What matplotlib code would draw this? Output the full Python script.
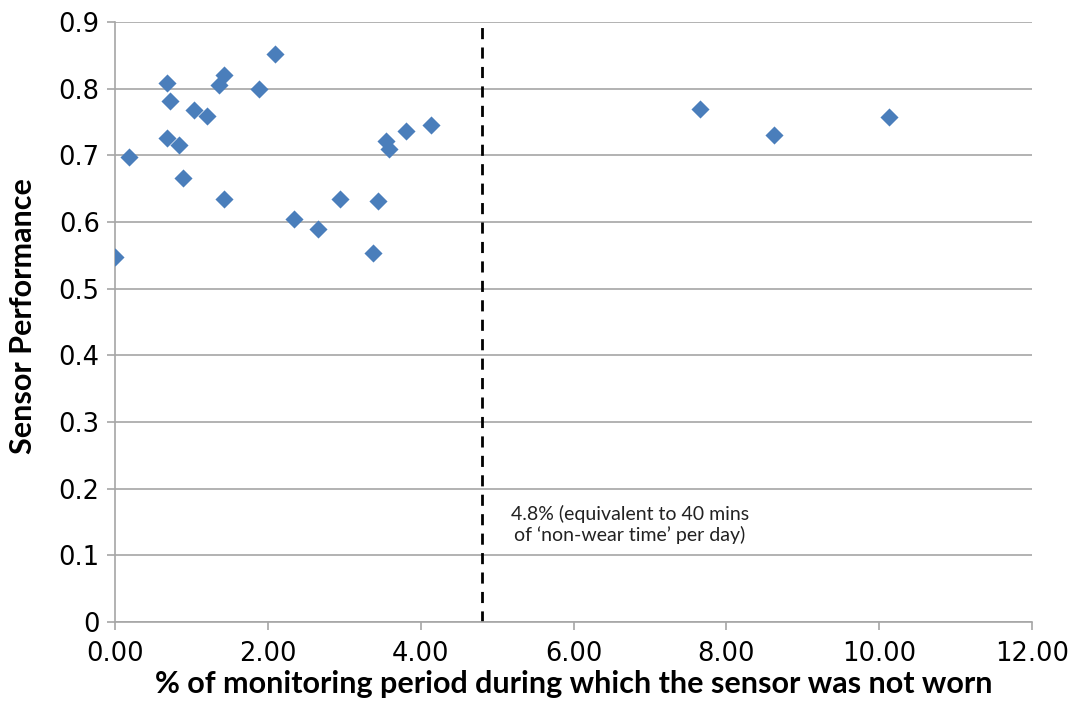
import matplotlib
matplotlib.use("Agg")
import matplotlib.pyplot as plt

x_pct = [0.00, 0.18, 0.68, 0.72, 0.68, 0.84, 0.89, 1.04, 1.20, 1.36, 1.43, 1.43,
         1.89, 2.09, 2.34, 2.66, 2.95, 3.38, 3.44, 3.55, 3.58, 3.81, 4.13,
         7.65, 8.62, 10.13]
performance = [0.547, 0.698, 0.809, 0.782, 0.726, 0.716, 0.666, 0.768, 0.759, 0.806, 0.821, 0.634,
               0.799, 0.852, 0.605, 0.589, 0.634, 0.553, 0.632, 0.721, 0.710, 0.736, 0.745,
               0.769, 0.731, 0.758]
threshold = 4.8
x_ticks = [0, 2, 4, 6, 8, 10, 12]
y_ticks = [0, 0.1, 0.2, 0.3, 0.4, 0.5, 0.6, 0.7, 0.8, 0.9]

fig = plt.figure(figsize=(10.79, 7.26), dpi=100)
ax = fig.add_axes([115/1079, 1-622/726, (1032-115)/1079, (622-22)/726])

ax.scatter(x_pct, performance, marker='D', s=85, color='#4A7EBB', zorder=3, linewidths=0)
ax.axvline(threshold, color='black', linestyle=(0, (4, 3)), linewidth=2, zorder=2)
ax.text(6.74, 0.146, "4.8% (equivalent to 40 mins\nof \u2018non-wear time\u2019 per day)",
        fontsize=14, family='Lato', ha='center', va='center', linespacing=1.2,
        color='#222222')
ax.set_xlim(0, 12)
ax.set_ylim(0, 0.9)
ax.set_xticks(x_ticks)
ax.set_xticklabels([f"{v:.2f}" for v in x_ticks])
ax.set_yticks(y_ticks)
ax.set_yticklabels([f"{v:g}" for v in y_ticks])
ax.grid(axis='y', color='#a6a6a6', linewidth=1.2)
ax.set_axisbelow(True)
for s in ['top', 'right']:
    ax.spines[s].set_visible(False)
for s in ['left', 'bottom']:
    ax.spines[s].set_color('#a6a6a6')
    ax.spines[s].set_linewidth(1.2)
ax.tick_params(axis='both', colors='#a6a6a6', labelcolor='black', labelsize=18.5, length=6, width=1.2)
ax.tick_params(axis='y', direction='out', pad=5)
ax.tick_params(axis='x', pad=8)
for lab in ax.get_xticklabels() + ax.get_yticklabels():
    lab.set_family('DejaVu Sans')
ax.set_xlabel("% of monitoring period during which the sensor was not worn",
              fontsize=22, fontweight='bold', family='Lato')
ax.set_ylabel("Sensor Performance", fontsize=22, fontweight='bold', family='Lato')
ax.xaxis.set_label_coords(0.5, -0.103)
ax.yaxis.set_label_coords(-0.100, 0.51)
ax.xaxis.label.set_va('center')
ax.yaxis.label.set_va('center')

fig.savefig("out.png", dpi=100)
